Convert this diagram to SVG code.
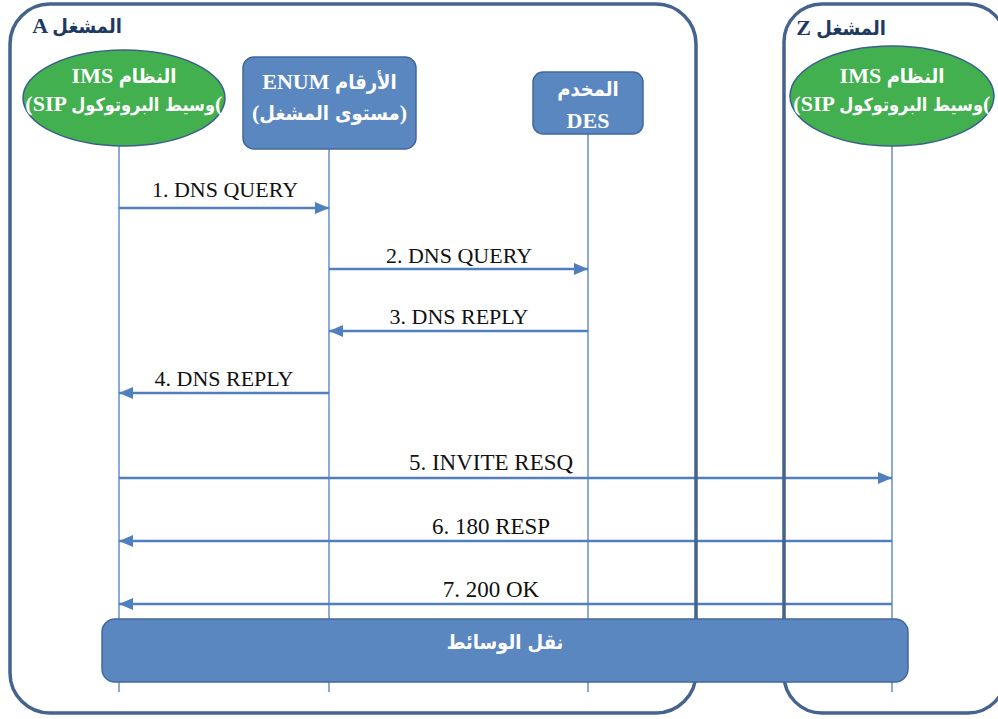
<svg xmlns="http://www.w3.org/2000/svg" width="998" height="719" viewBox="0 0 998 719">
<defs>
<style>
.op{fill:none;stroke:#46638f;stroke-width:3.5}
.life{stroke:#5a86c2;stroke-width:1.4;fill:none}
.msg{stroke:#4f7fbd;stroke-width:2.5;fill:none;marker-end:url(#ah)}
.lbl{font-family:"Liberation Serif","DejaVu Serif",serif;font-size:22px;fill:#111;text-anchor:middle}
.lbl2{font-size:23px}
.oplbl{font-family:"Liberation Serif","DejaVu Sans",serif;font-weight:bold;font-size:22px;fill:#1f3a60;text-anchor:middle}
.ntxt{font-family:"Liberation Serif","DejaVu Sans",serif;font-weight:bold;font-size:22px;fill:#ffffff;text-anchor:middle}
.end{text-anchor:end}
.start{text-anchor:start}
.ar{font-family:"DejaVu Sans Condensed","DejaVu Sans",sans-serif;font-size:20px}
.ar2{font-size:18px}
.green{fill:#42b04e;stroke:#3b5f8c;stroke-width:1.5}
.blue{fill:#5b87c1;stroke:#41689b;stroke-width:1.5}
</style>
<marker id="ah" viewBox="0 0 14 12" refX="14" refY="6" markerWidth="14" markerHeight="12" markerUnits="userSpaceOnUse" orient="auto">
<path d="M0,0 L14,6 L0,12 Z" fill="#4f7fbd"/>
</marker>
</defs>
<rect width="998" height="719" fill="#ffffff"/>

<g id="lifelines">
<line class="life" x1="119" y1="146" x2="119" y2="692"/>
<line class="life" x1="329" y1="149" x2="329" y2="692"/>
<line class="life" x1="588" y1="134" x2="588" y2="692"/>
<line class="life" x1="892" y1="146" x2="892" y2="692"/>
</g>

<g id="connectors">
<line class="msg" x1="119" y1="208" x2="329" y2="208"/>
<text class="lbl" x="225" y="197">1. DNS QUERY</text>
<line class="msg" x1="329" y1="269" x2="588" y2="269"/>
<text class="lbl" x="459" y="263">2. DNS QUERY</text>
<line class="msg" x1="588" y1="331" x2="329" y2="331"/>
<text class="lbl" x="459" y="324">3. DNS REPLY</text>
<line class="msg" x1="329" y1="393" x2="119" y2="393"/>
<text class="lbl" x="224" y="386">4. DNS REPLY</text>
<line class="msg" x1="119" y1="478" x2="892" y2="478"/>
<text class="lbl lbl2" x="491" y="470">5. INVITE RESQ</text>
<line class="msg" x1="892" y1="541" x2="119" y2="541"/>
<text class="lbl lbl2" x="491" y="534">6. 180 RESP</text>
<line class="msg" x1="892" y1="604" x2="119" y2="604"/>
<text class="lbl lbl2" x="491" y="597">7. 200 OK</text>
</g>

<g id="operator-a">
<rect class="op" x="10" y="4" width="686" height="709" rx="40" ry="40"/>
<text class="oplbl" x="77" y="33">A <tspan class="ar">المشغل</tspan></text>
</g>

<g id="operator-z">
<rect class="op" x="784" y="4" width="222" height="709" rx="38" ry="38"/>
<text class="oplbl" x="841" y="35">Z <tspan class="ar">المشغل</tspan></text>
</g>

<g id="ims-a">
<ellipse class="green" cx="124" cy="98" rx="101" ry="48"/>
<text class="ntxt" x="124" y="83">IMS <tspan class="ar">النظام</tspan></text>
<text class="ntxt end" x="215" y="111">(SIP <tspan class="ar ar2">وسيط البروتوكول</tspan></text>
<text class="ntxt start" x="215" y="111">(</text>
</g>

<g id="enum">
<rect class="blue" x="243" y="57" width="173" height="92" rx="11" ry="11"/>
<text class="ntxt" x="329.5" y="89">ENUM <tspan class="ar">الأرقام</tspan></text>
<text class="ntxt" x="329.5" y="120">(<tspan class="ar">مستوى المشغل</tspan>)</text>
</g>

<g id="des">
<rect class="blue" x="533" y="72" width="110" height="62" rx="10" ry="10"/>
<text class="ntxt" x="588" y="96"><tspan class="ar">المخدم</tspan></text>
<text class="ntxt" x="588" y="128">DES</text>
</g>

<g id="ims-z">
<ellipse class="green" cx="892" cy="96" rx="102" ry="50"/>
<text class="ntxt" x="892" y="83">IMS <tspan class="ar">النظام</tspan></text>
<text class="ntxt end" x="983" y="111">(SIP <tspan class="ar ar2">وسيط البروتوكول</tspan></text>
<text class="ntxt start" x="983" y="111">(</text>
</g>

<g id="media">
<rect class="blue" x="102" y="619" width="806" height="63" rx="13" ry="13"/>
<text class="ntxt" x="505" y="649"><tspan class="ar">نقل الوسائط</tspan></text>
</g>
</svg>
